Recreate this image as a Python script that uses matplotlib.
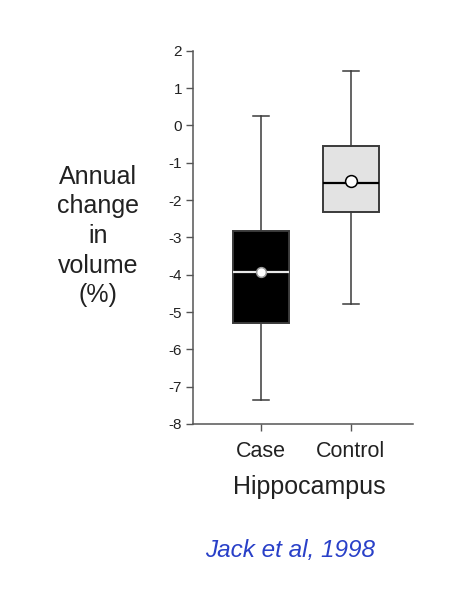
"""
Annual hippocampal volume change, case vs control (Jack et al, 1998)
Box plot drawn from summary statistics with matplotlib bxp
"""

import matplotlib
matplotlib.use("Agg")
import matplotlib.pyplot as plt

# Summary values (annual change in volume, %)
groups = ["Case", "Control"]
whisker_low = [-7.37, -4.79]
quartile_1 = [-5.29, -2.31]
medians = [-3.93, -1.54]
means = [-3.93, -1.49]
quartile_3 = [-2.82, -0.56]
whisker_high = [0.25, 1.46]

y_ticks = [2, 1, 0, -1, -2, -3, -4, -5, -6, -7, -8]

plt.rcParams['font.family'] = ['Liberation Sans', 'DejaVu Sans']

fig = plt.figure(figsize=(4.76, 5.98), dpi=100)
ax = fig.add_axes([0.4055, 0.291, 0.462, 0.624])

# Build the stats dicts for bxp
stats = []
for i, name in enumerate(groups):
    stats.append({
        'label': name,
        'whislo': whisker_low[i],
        'q1': quartile_1[i],
        'med': medians[i],
        'mean': means[i],
        'q3': quartile_3[i],
        'whishi': whisker_high[i],
        'fliers': [],
    })

edge = '#3a3a3a'
bp = ax.bxp(stats, positions=[1, 2], widths=0.63, capwidths=0.17,
            patch_artist=True, showmeans=True, showfliers=False,
            boxprops=dict(edgecolor=edge, linewidth=1.4),
            whiskerprops=dict(color=edge, linewidth=1.1),
            capprops=dict(color=edge, linewidth=1.1),
            medianprops=dict(linewidth=1.6),
            meanprops=dict(marker='o', markerfacecolor='white',
                           markeredgewidth=1.1))

box_colors = ['black', '#e3e3e3']
median_colors = ['#e8e8e8', 'black']
mean_edges = ['#9a9a9a', 'black']
mean_sizes = [7, 8.5]
for i in range(len(groups)):
    bp['boxes'][i].set_facecolor(box_colors[i])
    bp['medians'][i].set_color(median_colors[i])
    bp['means'][i].set_markeredgecolor(mean_edges[i])
    bp['means'][i].set_markersize(mean_sizes[i])

ax.set_xlim(0.244, 2.69)
ax.set_ylim(-8, 2)
ax.set_yticks(y_ticks)
ax.set_yticklabels([str(t) for t in y_ticks])
ax.set_xticks([1, 2])
ax.set_xticklabels(groups)

for side in ['top', 'right']:
    ax.spines[side].set_visible(False)
for side in ['left', 'bottom']:
    ax.spines[side].set_color('#555555')
    ax.spines[side].set_linewidth(1.1)

ax.tick_params(axis='y', direction='out', length=5, width=1, color='#555555',
               labelsize=11, labelcolor='#222222', pad=3)
ax.tick_params(axis='x', direction='out', length=5, width=1, color='#555555',
               labelsize=15.5, labelcolor='#222222', pad=7)

ax.set_xlabel('Hippocampus', fontsize=18, color='#222222')
ax.xaxis.set_label_coords(0.53, -0.169)
ax.xaxis.label.set_va('center')

fig.text(98 / 476, 1 - 236 / 598, 'Annual\nchange\nin\nvolume\n(%)',
         ha='center', va='center', multialignment='center',
         fontsize=18, color='#222222', linespacing=1.3)

fig.text(290 / 476, 1 - 551 / 598, 'Jack et al, 1998', ha='center', va='center',
         fontsize=17.5, style='italic', color='#2940c8')

fig.savefig('out.png', dpi=100)
